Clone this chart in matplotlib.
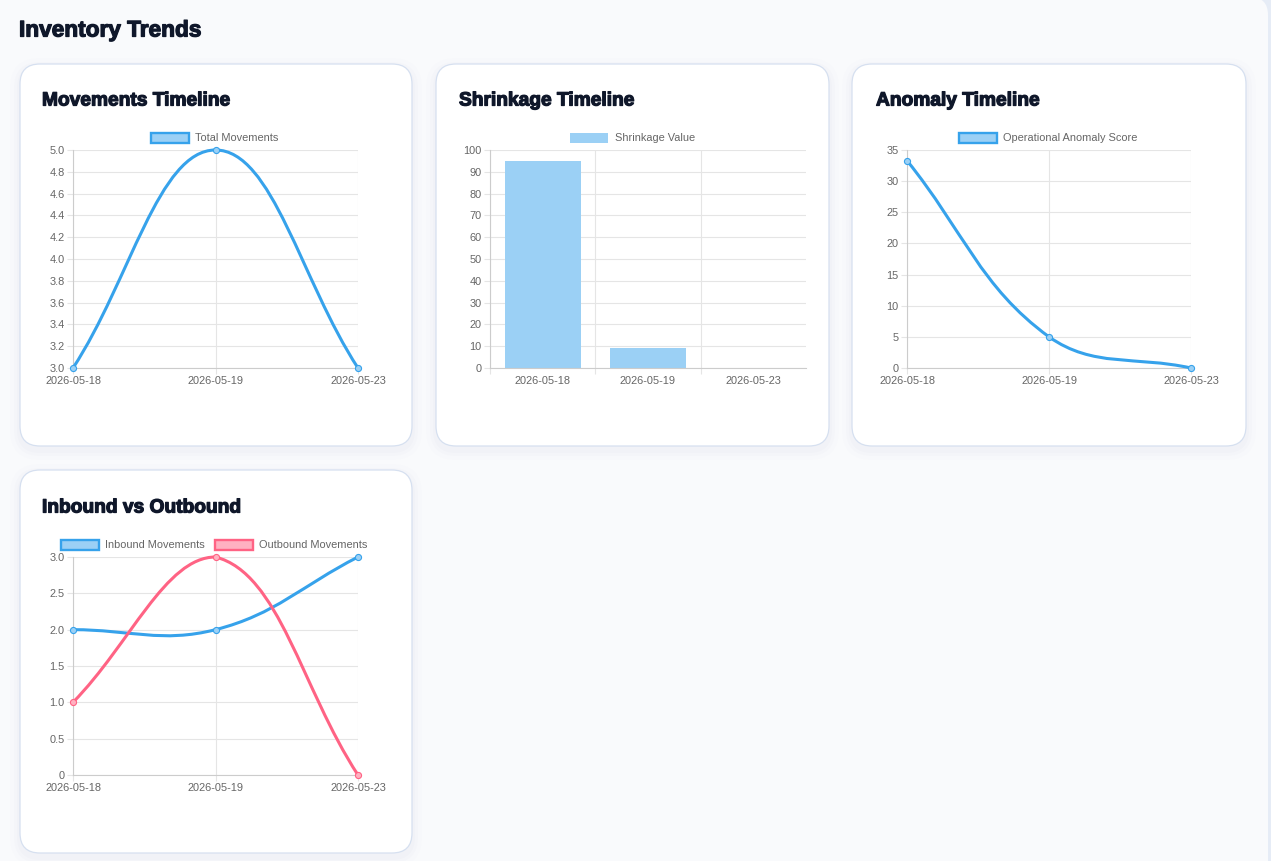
import matplotlib
matplotlib.use("Agg")
import numpy as np
import matplotlib.pyplot as plt
import matplotlib.patheffects as pe
from matplotlib.patches import FancyBboxPatch, Rectangle, PathPatch
from matplotlib.path import Path

plt.rcParams['font.family'] = ['Liberation Sans', 'DejaVu Sans']

# dane wykresów
dates = ['2026-05-18', '2026-05-19', '2026-05-23']
total_movements = [3, 5, 3]
shrinkage_value = [95, 9.3, 0]
anomaly_score = [33.3, 5, 0]
inbound_movements = [2, 2, 3]
outbound_movements = [1, 3, 0]

BLUE = '#36a2eb'
BLUE_FILL = '#9bd0f5'
PINK = '#ff6384'
PINK_FILL = '#ffb1c1'
GRID = '#e5e5e5'
TICK_TXT = '#666666'
TITLE = '#0f172a'

W, H = 1271, 861
fig = plt.figure(figsize=(W / 100, H / 100), dpi=100)
fig.patch.set_facecolor('#e6ecf6')

bg = fig.add_axes([0, 0, 1, 1])
bg.set_xlim(0, W)
bg.set_ylim(H, 0)
bg.axis('off')

# tło panelu
bg.add_patch(FancyBboxPatch((-40, -3), 1308, 920,
                            boxstyle='round,pad=0,rounding_size=18',
                            fc='#f9fafc', ec='none'))

cards = [(20, 64, 392, 382), (436, 64, 393, 382), (852, 64, 394, 382), (20, 470, 392, 383)]
for (x, y, w, h) in cards:
    for k, a in [(10, 0.012), (6, 0.018), (3, 0.025)]:
        bg.add_patch(FancyBboxPatch((x - k, y - k + 4), w + 2 * k, h + 2 * k,
                                    boxstyle='round,pad=0,rounding_size=%d' % (20 + k),
                                    fc='#8090b0', ec='none', alpha=a))
    bg.add_patch(FancyBboxPatch((x, y), w, h, boxstyle='round,pad=0,rounding_size=20',
                                fc='white', ec='#d6e0f0', lw=0.9))

heavy = [pe.withStroke(linewidth=0.9, foreground=TITLE)]
bg.text(19, 30, 'Inventory Trends', fontsize=16.3, fontweight='bold', color=TITLE,
        va='center', path_effects=heavy)
titles = [(42, 101, 'Movements Timeline'), (459, 101, 'Shrinkage Timeline'),
          (876, 101, 'Anomaly Timeline'), (42, 508, 'Inbound vs Outbound')]
for tx, ty, t in titles:
    bg.text(tx, ty, t, fontsize=13.8, fontweight='bold', color=TITLE, va='center',
            path_effects=heavy)


def legend_item(x, y, label, fill, edge):
    if edge is None:
        bg.add_patch(Rectangle((x, y - 5), 38, 10, fc=fill, ec='none'))
    else:
        bg.add_patch(Rectangle((x + 1, y - 5), 38, 10, fc=fill, ec=edge, lw=1.7))
    bg.text(x + 45, y, label, fontsize=7.9, color=TICK_TXT, va='center')


legend_item(150, 138, 'Total Movements', BLUE_FILL, BLUE)
legend_item(570, 138, 'Shrinkage Value', BLUE_FILL, None)
legend_item(958, 138, 'Operational Anomaly Score', BLUE_FILL, BLUE)
legend_item(60, 545, 'Inbound Movements', BLUE_FILL, BLUE)
legend_item(214, 545, 'Outbound Movements', PINK_FILL, PINK)


def make_ax(x0, y0, x1, y1):
    ax = fig.add_axes([x0 / W, 1 - y1 / H, (x1 - x0) / W, (y1 - y0) / H])
    ax.set_facecolor('none')
    for s in ['top', 'right']:
        ax.spines[s].set_visible(False)
    for s in ['left', 'bottom']:
        ax.spines[s].set_color('#cccccc')
        ax.spines[s].set_linewidth(0.8)
    ax.tick_params(length=4, width=0.8, color=GRID, labelcolor=TICK_TXT, labelsize=7.9, pad=2)
    ax.set_axisbelow(True)
    return ax


def smooth_path(ax, xs, ys, t=0.4):
    # krzywa jak w Chart.js (tension 0.4)
    pts = ax.transData.transform(np.column_stack([xs, ys]).astype(float))
    bb = ax.bbox
    n = len(pts)
    ctrl = []
    for i in range(n):
        prev = pts[max(i - 1, 0)]
        cur = pts[i]
        nxt = pts[min(i + 1, n - 1)]
        d01 = np.hypot(*(cur - prev))
        d12 = np.hypot(*(nxt - cur))
        tot = d01 + d12
        s01 = d01 / tot if tot else 0
        s12 = d12 / tot if tot else 0
        cp = cur - t * s01 * (nxt - prev)
        cn = cur + t * s12 * (nxt - prev)
        cp = np.clip(cp, [bb.x0, bb.y0], [bb.x1, bb.y1])
        cn = np.clip(cn, [bb.x0, bb.y0], [bb.x1, bb.y1])
        ctrl.append((cp, cn))
    verts = [pts[0]]
    codes = [Path.MOVETO]
    for i in range(n - 1):
        verts += [ctrl[i][1], ctrl[i + 1][0], pts[i + 1]]
        codes += [Path.CURVE4] * 3
    verts = ax.transData.inverted().transform(np.array(verts))
    return Path(verts, codes)


def line_series(ax, ys, color, fill):
    xs = np.arange(len(ys))
    ax.add_patch(PathPatch(smooth_path(ax, xs, ys), fc='none', ec=color, lw=2.2,
                           clip_on=False, zorder=3, capstyle='round'))
    ax.plot(xs, ys, 'o', ms=4.4, mfc=fill, mec=color, mew=0.8, clip_on=False, zorder=4)


def setup_line_ax(ax, yticks, ylabels):
    ax.set_xlim(0, len(dates) - 1)
    ax.set_ylim(yticks[0], yticks[-1])
    ax.set_xticks(range(len(dates)))
    ax.set_xticklabels(dates)
    ax.set_yticks(yticks)
    ax.set_yticklabels(ylabels)
    ax.grid(True, color=GRID, lw=0.8)


# Movements Timeline
ax1 = make_ax(73, 150, 358, 368)
yt1 = [3.0, 3.2, 3.4, 3.6, 3.8, 4.0, 4.2, 4.4, 4.6, 4.8, 5.0]
setup_line_ax(ax1, yt1, ['%.1f' % v for v in yt1])
line_series(ax1, total_movements, BLUE, BLUE_FILL)

# Shrinkage Timeline
ax2 = make_ax(490, 150, 806, 368)
ax2.bar(range(len(dates)), shrinkage_value, width=0.72, color=BLUE_FILL, zorder=2)
ax2.set_xlim(-0.5, len(dates) - 0.5)
ax2.set_ylim(0, 100)
ax2.set_yticks(range(0, 101, 10))
ax2.set_xticks(range(len(dates)))
ax2.set_xticklabels(dates)
ax2.set_xticks([-0.5, 0.5, 1.5], minor=True)
ax2.tick_params(axis='x', which='major', length=0, pad=6)
ax2.tick_params(axis='x', which='minor', length=4, width=0.8, color=GRID)
ax2.grid(True, axis='y', color=GRID, lw=0.8)
ax2.grid(True, axis='x', which='minor', color=GRID, lw=0.8)

# Anomaly Timeline
ax3 = make_ax(907, 150, 1191, 368)
yt3 = list(range(0, 36, 5))
setup_line_ax(ax3, yt3, [str(v) for v in yt3])
line_series(ax3, anomaly_score, BLUE, BLUE_FILL)

# Inbound vs Outbound
ax4 = make_ax(73, 557, 358, 775)
yt4 = [0, 0.5, 1.0, 1.5, 2.0, 2.5, 3.0]
setup_line_ax(ax4, yt4, ['0', '0.5', '1.0', '1.5', '2.0', '2.5', '3.0'])
line_series(ax4, inbound_movements, BLUE, BLUE_FILL)
line_series(ax4, outbound_movements, PINK, PINK_FILL)

fig.savefig('out.png', dpi=100, facecolor=fig.get_facecolor())
